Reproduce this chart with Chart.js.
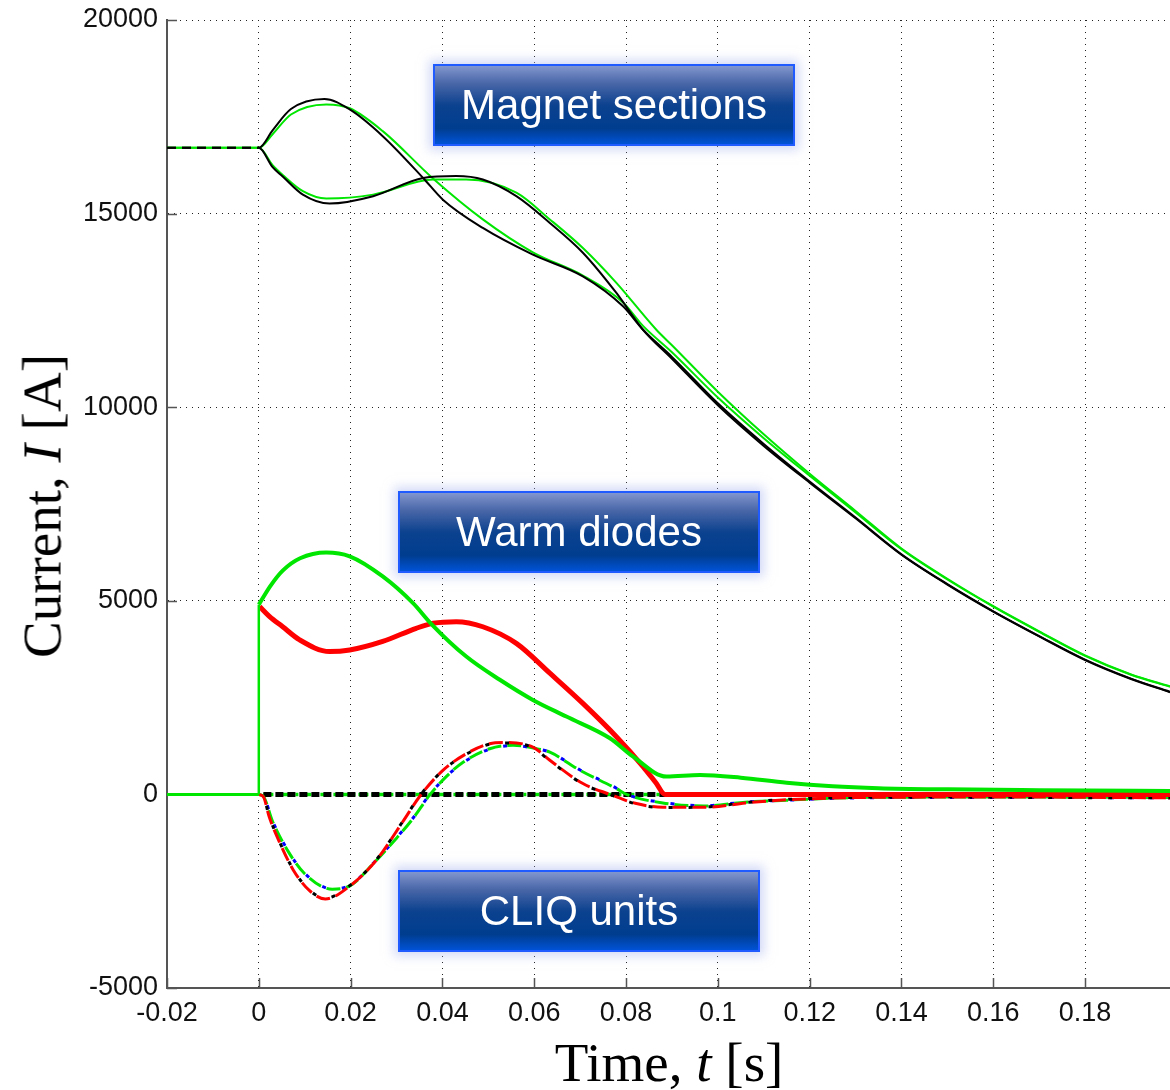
<!DOCTYPE html>
<html>
<head>
<meta charset="utf-8">
<script src="https://cdn.jsdelivr.net/npm/chart.js@4/dist/chart.umd.min.js"></script>
<style>
    body { margin: 0; background: #fff; }
    #wrap { position: relative; width: 1170px; height: 1090px; overflow: hidden; }
    #chart { position: absolute; left: 0; top: 0; }
    .tag {
        position: absolute;
        width: 362px;
        height: 82px;
        box-sizing: border-box;
        border: 2px solid #1f5bff;
        background: linear-gradient(#8196ce 0%, #4a67a8 22%, #0c428f 50%, #003d8f 80%, #0052d6 100%);
        box-shadow: 0 0 10px 4px rgba(175, 185, 238, 0.55);
        color: #fff;
        font: 42px "Liberation Sans", Arial, sans-serif;
        display: flex;
        align-items: center;
        justify-content: center;
    }
    .axis-title {
        position: absolute;
        font: 55px "Liberation Serif", "Times New Roman", serif;
        line-height: 1;
        white-space: nowrap;
        color: #000;
    }
    #ytitle { left: 42px; top: 506px; transform: translate(-50%, -50%) rotate(-90deg); }
    #xtitle { left: 669px; top: 1062px; transform: translate(-50%, -50%); }
</style>
</head>
<body>
<div id="wrap">
    <canvas id="chart" width="1170" height="1090"></canvas>
    <div class="tag" style="left:433px; top:64px;">Magnet sections</div>
    <div class="tag" style="left:398px; top:491px;">Warm diodes</div>
    <div class="tag" style="left:398px; top:870px;">CLIQ units</div>
    <div class="axis-title" id="ytitle">Current, <i>I</i> [A]</div>
    <div class="axis-title" id="xtitle">Time, <i>t</i> [s]</div>
</div>
<script>
// Axis ranges and ticks
const xTicks = [-0.02, 0, 0.02, 0.04, 0.06, 0.08, 0.1, 0.12, 0.14, 0.16, 0.18];
const xMin = -0.02, xMax = 0.1985;
const yTicks = [-5000, 0, 5000, 10000, 15000, 20000];

// Magnet section currents [A]
const magTimeBlackA = [-0.02, 0, 0.003, 0.007, 0.0143, 0.0198, 0.027, 0.0358, 0.0401, 0.0488, 0.0597, 0.0706, 0.0794, 0.0837, 0.09, 0.1, 0.11, 0.12, 0.13, 0.14, 0.15, 0.16, 0.17, 0.18, 0.19, 0.1985];
const magBlackA = [16700, 16700, 17150, 17700, 17960, 17690, 17000, 15920, 15360, 14630, 13940, 13380, 12600, 12000, 11300, 10100, 9050, 8080, 7150, 6200, 5430, 4730, 4090, 3480, 2990, 2650];

const magTimeGreenA = [-0.02, 0, 0.003, 0.007, 0.0147, 0.0198, 0.027, 0.038, 0.0488, 0.0597, 0.0706, 0.0794, 0.0837, 0.09, 0.1, 0.11, 0.12, 0.13, 0.14, 0.15, 0.16, 0.17, 0.18, 0.19, 0.1985];
const magGreenA = [16700, 16700, 17050, 17560, 17820, 17720, 17130, 15900, 14850, 14000, 13400, 12700, 12100, 11420, 10250, 9200, 8230, 7280, 6330, 5550, 4850, 4200, 3580, 3090, 2780];

const magTimeBlackB = [-0.02, 0, 0.003, 0.0052, 0.0096, 0.0154, 0.0249, 0.0358, 0.043, 0.0488, 0.0561, 0.0634, 0.0706, 0.0779, 0.0837, 0.09, 0.1, 0.11, 0.12, 0.13, 0.14, 0.15, 0.16, 0.17, 0.18, 0.19, 0.1985];
const magBlackB = [16700, 16700, 16200, 15960, 15490, 15260, 15450, 15920, 15970, 15880, 15450, 14760, 13990, 12950, 12000, 11250, 10050, 9000, 8050, 7130, 6190, 5420, 4720, 4080, 3470, 2980, 2640];

const magTimeGreenB = [-0.02, 0, 0.003, 0.0052, 0.0096, 0.0147, 0.0249, 0.038, 0.0452, 0.0561, 0.0634, 0.0706, 0.0779, 0.0866, 0.09, 0.1, 0.11, 0.12, 0.13, 0.14, 0.15, 0.16, 0.17, 0.18, 0.19, 0.1985];
const magGreenB = [16700, 16700, 16250, 16000, 15580, 15390, 15490, 15880, 15880, 15540, 14850, 14110, 13210, 12000, 11600, 10400, 9300, 8280, 7320, 6350, 5570, 4860, 4210, 3590, 3100, 2790];

// Warm diode currents [A]; the second diode is idle before the trigger and jumps at t = 0
const diodeTimeIdle = [-0.02, 0, 0];
const diodeIdle = [0, 0, 4900];
const diodeTimeGreen = [0, 0.0025, 0.0052, 0.009, 0.0147, 0.0198, 0.027, 0.0336, 0.0376, 0.0452, 0.0525, 0.0597, 0.067, 0.0765, 0.0815, 0.0888, 0.0961, 0.105, 0.115, 0.125, 0.135, 0.15, 0.17, 0.1985];
const diodeGreen = [4900, 5380, 5780, 6100, 6250, 6150, 5630, 4940, 4400, 3560, 2960, 2440, 2010, 1450, 980, 460, 500, 430, 300, 210, 160, 130, 110, 90];

const diodeTimeRed = [0.0002, 0.0023, 0.0052, 0.0089, 0.0154, 0.0198, 0.027, 0.0343, 0.038, 0.043, 0.0488, 0.0561, 0.0634, 0.0706, 0.0779, 0.0837, 0.0865, 0.0885, 0.1, 0.12, 0.15, 0.1985];
const diodeRed = [4850, 4600, 4330, 3990, 3690, 3730, 3950, 4290, 4420, 4460, 4330, 3900, 3130, 2350, 1490, 720, 300, 0, 0, 0, 0, 0];

// CLIQ unit currents [A]
const cliqTimeRed = [0, 0.001, 0.0023, 0.0045, 0.0075, 0.011, 0.0145, 0.02, 0.0256, 0.0314, 0.035, 0.0401, 0.0452, 0.0503, 0.0532, 0.0597, 0.0634, 0.0706, 0.0765, 0.082, 0.088, 0.098, 0.106, 0.115, 0.13, 0.15, 0.17, 0.1985];
const cliqRed = [0, -60, -590, -1230, -1950, -2480, -2700, -2350, -1700, -700, -60, 620, 1050, 1310, 1340, 1220, 880, 280, 0, -230, -330, -330, -220, -140, -80, -70, -70, -90];
const cliqBlack = [0, -60, -580, -1220, -1940, -2470, -2680, -2340, -1690, -690, -50, 620, 1040, 1300, 1330, 1210, 870, 270, 0, -240, -340, -320, -210, -130, -80, -70, -80, -90];

const cliqTimeGreen = [0, 0.001, 0.003, 0.0067, 0.01, 0.016, 0.02, 0.025, 0.03, 0.0336, 0.0372, 0.041, 0.0445, 0.0503, 0.0554, 0.0605, 0.0634, 0.07, 0.0779, 0.0801, 0.088, 0.097, 0.106, 0.115, 0.13, 0.15, 0.17, 0.1985];
const cliqGreen = [0, -50, -700, -1530, -2050, -2450, -2350, -1780, -1130, -620, -20, 480, 830, 1180, 1270, 1180, 1090, 620, 150, 0, -220, -300, -200, -150, -80, -70, -70, -80];
const cliqBlue = [0, -50, -690, -1520, -2040, -2440, -2340, -1770, -1120, -610, -10, 480, 820, 1170, 1260, 1180, 1090, 630, 160, 0, -210, -290, -200, -150, -90, -80, -80, -90];

// Zero reference of the unfired units
const zeroTime = [0.001, 0.1985];
const zeroLevel = [0, 0];

function pts(ts, vs) {
    return ts.map((t, i) => ({ x: t, y: vs[i] }));
}

function line(label, ts, vs, color, width, order, extra) {
    return Object.assign({
        label: label,
        data: pts(ts, vs),
        borderColor: color,
        borderWidth: width,
        pointRadius: 0,
        fill: false,
        cubicInterpolationMode: 'monotone',
        order: order
    }, extra || {});
}

// Ticks point into the plot, the way the original plotting tool draws them
const inwardTicks = {
    id: 'inwardTicks',
    beforeDatasetsDraw(chart) {
        const { ctx, chartArea: a, scales: { x, y } } = chart;
        ctx.save();
        ctx.strokeStyle = '#555';
        ctx.lineWidth = 1.5;
        ctx.beginPath();
        x.ticks.forEach(t => {
            const px = Math.round(x.getPixelForValue(t.value)) + 0.5;
            ctx.moveTo(px, a.bottom);
            ctx.lineTo(px, a.bottom - 10);
        });
        y.ticks.forEach(t => {
            const py = Math.round(y.getPixelForValue(t.value)) + 0.5;
            ctx.moveTo(a.left, py);
            ctx.lineTo(a.left + 10, py);
        });
        ctx.stroke();
        ctx.restore();
    }
};

const preTrigger = ctx => ctx.p1.parsed.x <= 0 ? [9, 6] : undefined;

const datasets = [
    line('Diode 2', diodeTimeGreen, diodeGreen, '#00e600', 4, 1),
    line('Diode 2 idle', diodeTimeIdle, diodeIdle, '#00e600', 3, 1, {
        cubicInterpolationMode: 'default',
        tension: 0,
        segment: { borderWidth: ctx => ctx.p0.parsed.x === ctx.p1.parsed.x ? 2.5 : undefined }
    }),
    line('Diode 1', diodeTimeRed, diodeRed, '#ff0000', 5, 2),
    line('CLIQ 1b', cliqTimeRed, cliqBlack, '#000000', 3, 3, { borderDash: [4, 16], borderDashOffset: -15 }),
    line('CLIQ 1a', cliqTimeRed, cliqRed, '#ff0000', 3, 4, { borderDash: [14, 6] }),
    line('CLIQ 2b', cliqTimeGreen, cliqBlue, '#0000ff', 3, 5, { borderDash: [4, 16], borderDashOffset: -15 }),
    line('CLIQ 2a', cliqTimeGreen, cliqGreen, '#00e600', 3, 6, { borderDash: [14, 6] }),
    line('CLIQ 3', zeroTime, zeroLevel, '#000000', 5, 7, { borderDash: [8, 4] }),
    line('CLIQ 4', zeroTime, zeroLevel, '#00e600', 3.5, 8, { borderDash: [10, 3, 3, 3] }),
    line('Section 1b', magTimeBlackA, magBlackA, '#000000', 2, 9, { segment: { borderDash: preTrigger } }),
    line('Section 2b', magTimeBlackB, magBlackB, '#000000', 2, 10, { segment: { borderDash: preTrigger } }),
    line('Section 1a', magTimeGreenA, magGreenA, '#00e600', 2, 11),
    line('Section 2a', magTimeGreenB, magGreenB, '#00e600', 2, 12)
];

const tickFont = { family: '"Liberation Sans", Arial, sans-serif', size: 27 };

new Chart(document.getElementById('chart').getContext('2d'), {
    type: 'line',
    data: { datasets: datasets },
    plugins: [inwardTicks],
    options: {
        responsive: false,
        animation: false,
        devicePixelRatio: 1,
        layout: { padding: { top: 20, right: 0, bottom: 0, left: 0 } },
        plugins: {
            legend: { display: false },
            tooltip: { enabled: false }
        },
        scales: {
            x: {
                type: 'linear',
                min: xMin,
                max: xMax,
                afterFit(s) { s.height = 102; s.paddingRight = 0; },
                afterBuildTicks(s) { s.ticks = xTicks.map(v => ({ value: v })); },
                ticks: {
                    includeBounds: false,
                    color: '#111',
                    font: tickFont,
                    padding: 9,
                    maxRotation: 0,
                    autoSkip: false,
                    callback: v => String(+v.toFixed(2))
                },
                grid: { color: '#222', lineWidth: 1, drawTicks: false },
                border: { color: '#555', width: 2, dash: [1, 5] }
            },
            y: {
                type: 'linear',
                min: yTicks[0],
                max: yTicks[yTicks.length - 1],
                afterFit(s) { s.width = 167; s.paddingTop = 0; s.paddingBottom = 0; },
                afterBuildTicks(s) { s.ticks = yTicks.map(v => ({ value: v })); },
                ticks: {
                    color: '#111',
                    font: tickFont,
                    padding: 9,
                    callback: v => String(v)
                },
                grid: { color: '#222', lineWidth: 1, drawTicks: false },
                border: { color: '#555', width: 2, dash: [1, 5] }
            }
        }
    }
});
</script>
</body>
</html>
